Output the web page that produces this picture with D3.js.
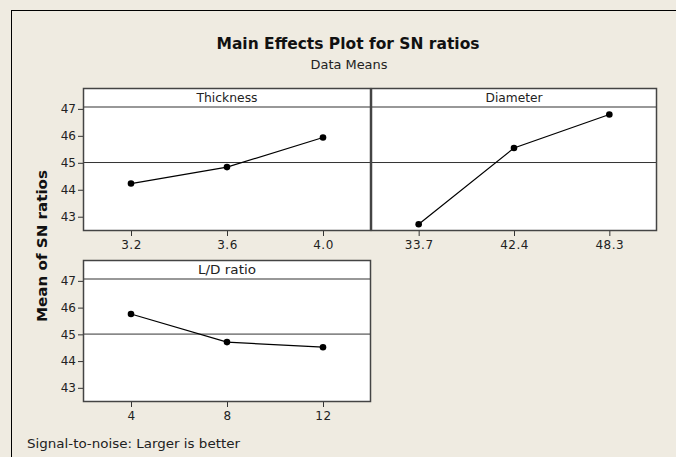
<!DOCTYPE html>
<html>
<head>
<meta charset="utf-8">
<script src="https://cdn.jsdelivr.net/npm/d3@7"></script>
<style>
  html, body { margin: 0; padding: 0; background: #EFEBE1; }
  svg { display: block; }
  text { font-family: "DejaVu Sans", Verdana, sans-serif; }
</style>
</head>
<body>
<div id="chart"></div>
<script>
// ---- data ----
const factors = ["Thickness", "Diameter", "L/D ratio"];
const thicknessLevels = ["3.2", "3.6", "4.0"];
const thicknessValues = [44.23, 44.84, 45.94];
const diameterLevels = ["33.7", "42.4", "48.3"];
const diameterValues = [42.72, 45.55, 46.79];
const ldLevels = ["4", "8", "12"];
const ldValues = [45.76, 44.71, 44.52];
const yTicks = [43, 44, 45, 46, 47];
const grandMean = 45.01;
const title = "Main Effects Plot for SN ratios";
const subtitle = "Data Means";
const yTitle = "Mean of SN ratios";
const footnote = "Signal-to-noise: Larger is better";

const W = 676, H = 457;
const FONT = "DejaVu Sans, Verdana, sans-serif";
const svg = d3.select("#chart").append("svg").attr("width", W).attr("height", H);

svg.append("rect").attr("x", 0).attr("y", 0).attr("width", W).attr("height", H).attr("fill", "#EFEBE1");
// outer frame
svg.append("rect").attr("x", 11.5).attr("y", 10.5).attr("width", W).attr("height", H)
  .attr("fill", "none").attr("stroke", "#000").attr("stroke-width", 1);

svg.append("text").attr("x", 348).attr("y", 49).attr("text-anchor", "middle")
  .attr("font-size", 15).attr("font-weight", "bold").attr("fill", "#111")
  .attr("textLength", 263).attr("lengthAdjust", "spacingAndGlyphs").text(title);
svg.append("text").attr("x", 349).attr("y", 69).attr("text-anchor", "middle")
  .attr("font-size", 12).attr("fill", "#222")
  .attr("textLength", 77).attr("lengthAdjust", "spacingAndGlyphs").text(subtitle);

const stripWidths = [61, 57, 58];
const panels = [
  { name: factors[0], levels: thicknessLevels, values: thicknessValues, x0: 83, x1: 371, y0: 88, y1: 231, yAxis: true },
  { name: factors[1], levels: diameterLevels, values: diameterValues, x0: 371, x1: 657, y0: 88, y1: 231, yAxis: false },
  { name: factors[2], levels: ldLevels, values: ldValues, x0: 83, x1: 371, y0: 260, y1: 402, yAxis: true }
];
const stripH = 19;
const borderColor = "#444";

panels.forEach((p, pi) => {
  const g = svg.append("g");
  const top = p.y0 + stripH;
  const x = d3.scalePoint().domain(p.levels).range([p.x0, p.x1]).padding(0.5);
  const y = d3.scaleLinear().domain([42.47, 47.07]).range([p.y1, top]);

  g.append("rect").attr("x", p.x0).attr("y", p.y0).attr("width", p.x1 - p.x0).attr("height", p.y1 - p.y0)
    .attr("fill", "#fff");
  // reference line
  g.append("line").attr("x1", p.x0).attr("x2", p.x1).attr("y1", y(grandMean)).attr("y2", y(grandMean))
    .attr("stroke", "#333").attr("stroke-width", 1);
  // strip
  g.append("line").attr("x1", p.x0).attr("x2", p.x1).attr("y1", top).attr("y2", top)
    .attr("stroke", "#333").attr("stroke-width", 1.2);
  g.append("text").attr("x", (p.x0 + p.x1) / 2).attr("y", p.y0 + 14).attr("text-anchor", "middle")
    .attr("font-size", 12).attr("fill", "#222")
    .attr("textLength", stripWidths[pi]).attr("lengthAdjust", "spacingAndGlyphs").text(p.name);

  // x axis
  const xa = g.append("g").attr("transform", `translate(0,${p.y1})`)
    .call(d3.axisBottom(x).tickSize(5).tickPadding(4).tickSizeOuter(0));
  xa.select(".domain").remove();
  xa.selectAll("line").attr("stroke", "#333");
  xa.selectAll("text").attr("font-size", 12).attr("fill", "#222")
    .attr("font-family", FONT).attr("letter-spacing", "0.5px");

  if (p.yAxis) {
    const ya = g.append("g").attr("transform", `translate(${p.x0},0)`)
      .call(d3.axisLeft(y).tickValues(yTicks).tickSize(5).tickPadding(2).tickFormat(d3.format("d")));
    ya.select(".domain").remove();
    ya.selectAll("line").attr("stroke", "#333");
    ya.selectAll("text").attr("font-size", 12).attr("fill", "#222")
      .attr("font-family", FONT);
  }

  // data line
  const line = d3.line().x((d, i) => x(p.levels[i])).y(d => y(d));
  g.append("path").datum(p.values).attr("d", line).attr("fill", "none")
    .attr("stroke", "#000").attr("stroke-width", 1.2);
  g.selectAll("circle.pt").data(p.values).enter().append("circle")
    .attr("cx", (d, i) => x(p.levels[i])).attr("cy", d => y(d)).attr("r", 3.3).attr("fill", "#000");

  // border
  g.append("rect").attr("x", p.x0 + 0.5).attr("y", p.y0 + 0.5).attr("width", p.x1 - p.x0 - 1).attr("height", p.y1 - p.y0 - 1)
    .attr("fill", "none").attr("stroke", borderColor).attr("stroke-width", 1.5);
});

svg.append("text").attr("transform", "translate(47,246) rotate(-90)").attr("text-anchor", "middle")
  .attr("font-size", 14).attr("font-weight", "bold").attr("fill", "#111")
  .attr("textLength", 152).attr("lengthAdjust", "spacingAndGlyphs").text(yTitle);

svg.append("text").attr("x", 27).attr("y", 448).attr("font-size", 12).attr("fill", "#222")
  .attr("textLength", 213).attr("lengthAdjust", "spacingAndGlyphs").text(footnote);
</script>
</body>
</html>
